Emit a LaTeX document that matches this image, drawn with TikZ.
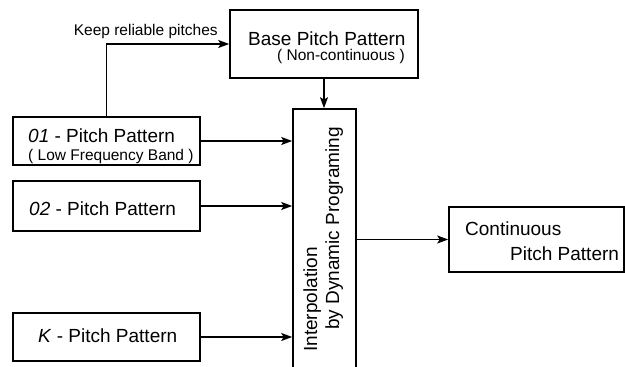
\documentclass[tikz,border=0pt]{standalone}
\usepackage{fontspec}
\setmainfont{Liberation Sans}
\usetikzlibrary{arrows.meta,positioning}
\tikzstyle{box} = [draw, line width=1.6pt, rectangle, inner sep=0pt]

\begin{document}
\begin{tikzpicture}[x=1pt,y=-1pt,
			big/.style={font=\fontsize{19}{23}\selectfont, inner sep=0pt, anchor=base west},
			small/.style={font=\fontsize{15.5}{18}\selectfont, inner sep=0pt, anchor=base west},
			arr/.style={line width=1.5pt, -{Stealth[length=11pt,width=8pt,inset=2.5pt]}}]
			\useasboundingbox (0,0) rectangle (625,367);
			\node (base)[box, minimum width=188pt, minimum height=68pt] at (324,44) {};
			\node (p1)[box, minimum width=187pt, minimum height=48pt] at (106.5,141) {};
			\node (p2)[box, minimum width=187pt, minimum height=50pt] at (106.5,206) {};
			\node (pk)[box, minimum width=187pt, minimum height=48pt] at (106.5,337) {};
			\node (dp)[box, minimum width=63pt, minimum height=270pt] at (324.5,244) {};
			\node (cont)[box, minimum width=175pt, minimum height=65pt] at (536.5,239.5) {};
			
			\node (base1)[big] at (248,45) {Base Pitch Pattern};
			\node (base2)[small] at (277,60) {( Non-continuous )};
			\node (p1a)[big] at (28,142) {\textit{01} - Pitch Pattern};
			\node (p1b)[small] at (28,160) {( Low Frequency Band )};
			\node (p2a)[big] at (29,215) {\textit{02} - Pitch Pattern};
			\node (pka)[big] at (38,342) {\textit{K} - Pitch Pattern};
			\node (dp1)[big, rotate=90] at (317,352) {Interpolation};
			\node (dp2)[big, rotate=90] at (339,330) {by Dynamic Programing};
			\node (cont1)[big] at (465,235) {Continuous};
			\node (cont2)[big] at (510,260) {Pitch Pattern};
			
			\draw[arr] (p1.north) |- node[small, pos=0.66, above=5pt] (keep) {Keep reliable pitches} (base.west);
			\draw[arr] (base.south) -- (base.south |- dp.north);
			\draw[arr] (p1.east) -- (p1.east -| dp.west);
			\draw[arr] (p2.east) -- (p2.east -| dp.west);
			\draw[arr] (pk.east) -- (pk.east -| dp.west);
			\draw[arr] (dp.east |- cont.west) -- (cont.west);
		\end{tikzpicture}
\end{document}
